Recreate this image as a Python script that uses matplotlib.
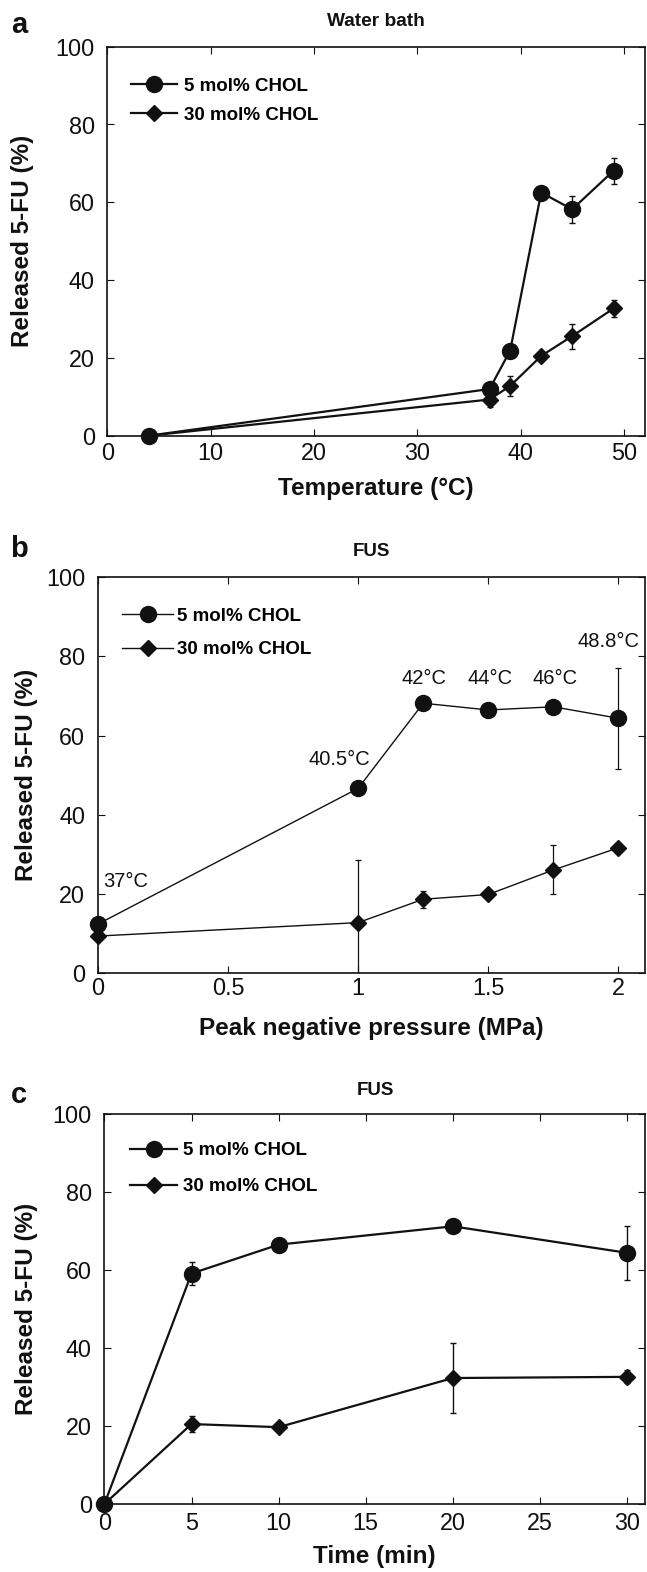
import matplotlib
matplotlib.use('Agg')
import matplotlib.pyplot as plt

plt.rcParams['font.family'] = ['Liberation Sans', 'DejaVu Sans']

# ---------------- data ----------------
series_labels = ['5 mol% CHOL', '30 mol% CHOL']

# (a) water bath
temp_c = [4, 37, 39, 42, 45, 49]
wb_5 = [0, 12.0, 21.9, 62.5, 58.2, 68.1]
wb_5_err = [0, 1.0, 0.5, 0.5, 3.4, 3.4]
wb_30 = [0, 9.3, 12.8, 20.5, 25.6, 32.7]
wb_30_err = [0, 1.9, 2.6, 0.5, 3.2, 2.2]

# (b) FUS vs pressure
pressure = [0, 1, 1.25, 1.5, 1.75, 2]
fus_p_5 = [12.4, 46.7, 68.2, 66.5, 67.3, 64.4]
fus_p_5_err = [0.5, 0.5, 0.5, 0.5, 0.5, 12.8]
fus_p_30 = [9.4, 12.8, 18.7, 19.9, 26.1, 31.7]
fus_p_30_err = [0.5, 15.8, 2.1, 0.5, 6.2, 0.5]
temp_labels = ['37°C', '40.5°C', '42°C', '44°C', '46°C', '48.8°C']
pressure_ticks = [0, 0.5, 1, 1.5, 2]
pressure_ticklabels = ['0', '0.5', '1', '1.5', '2']

# (c) FUS vs time
time_min = [0, 5, 10, 20, 30]
fus_t_5 = [0, 59.1, 66.5, 71.2, 64.4]
fus_t_5_err = [0, 2.9, 0.5, 0.5, 7.0]
fus_t_30 = [0, 20.5, 19.7, 32.3, 32.6]
fus_t_30_err = [0, 2.0, 0.5, 8.9, 1.7]

# ---------------- figure ----------------
W, H = 647, 1572
fig = plt.figure(figsize=(W / 100, H / 100), dpi=100)
K = '#111111'


def add_ax(l, r, t, b):
    return fig.add_axes([l / W, 1 - b / H, (r - l) / W, (b - t) / H])


def draw_series(ax, x, y, err, marker, ms, lw, elw, label):
    ax.errorbar(x, y, yerr=err, fmt='none', ecolor=K, elinewidth=elw,
                capsize=2.2, capthick=elw, zorder=2)
    h, = ax.plot(x, y, marker=marker, color=K, lw=lw, ms=ms, mec=K, mfc=K,
                 clip_on=False, zorder=3, label=label)
    return h


def style_ax(ax, xpad):
    ax.set_ylim(0, 100)
    ax.set_yticks(range(0, 101, 20))
    ax.tick_params(direction='in', top=True, right=True, length=5, width=0.8,
                   labelsize=16.8, colors=K)
    ax.tick_params(axis='y', pad=9)
    ax.tick_params(axis='x', pad=xpad)
    for s in ax.spines.values():
        s.set_linewidth(1.2)
        s.set_color(K)
    ax.set_ylabel('Released 5-FU (%)', fontsize=17.5, fontweight='bold', color=K)
    ax.yaxis.label.set_va('center')


def legend(ax, fx, fy, hl, htp, ls):
    ax.legend(loc='upper left', bbox_to_anchor=(fx, fy), frameon=False,
              borderpad=0, borderaxespad=0, handlelength=hl,
              handletextpad=htp, labelspacing=ls, numpoints=1,
              prop={'weight': 'bold', 'size': 13.5})


# ---- panel a ----
axa = add_ax(107.3, 644.5, 46.7, 435.7)
draw_series(axa, temp_c, wb_5, wb_5_err, 'o', 11.5, 1.6, 1.0, series_labels[0])
draw_series(axa, temp_c, wb_30, wb_30_err, 'D', 7.8, 1.6, 1.0, series_labels[1])
style_ax(axa, 4.5)
axa.set_xlim(0, 52)
axa.set_xticks(range(0, 51, 10))
axa.set_xlabel('Temperature (°C)', fontsize=17.5, fontweight='bold', color=K)
axa.xaxis.label.set_va('center')
axa.xaxis.set_label_coords(0.5, -(489 - 435.7) / (435.7 - 46.7))
axa.yaxis.set_label_coords(-(107.3 - 22.5) / (644.5 - 107.3), 0.5)
legend(axa, 0.045, 0.920, 2.45, 0.37, 0.61)

# ---- panel b ----
axb = add_ax(97.8, 644.5, 577.3, 973.3)
draw_series(axb, pressure, fus_p_5, fus_p_5_err, 'o', 11.5, 1.0, 0.9, series_labels[0])
draw_series(axb, pressure, fus_p_30, fus_p_30_err, 'D', 7.8, 1.0, 0.9, series_labels[1])
style_ax(axb, 2.5)
axb.set_xlim(0, 2.1)
axb.set_xticks(pressure_ticks)
axb.set_xticklabels(pressure_ticklabels)
axb.set_xlabel('Peak negative pressure (MPa)', fontsize=17.5, fontweight='bold', color=K)
axb.xaxis.label.set_va('center')
axb.xaxis.set_label_coords(0.5, -(1028 - 973.3) / (973.3 - 577.3))
axb.yaxis.set_label_coords(-(97.8 - 26.9) / (644.5 - 97.8), 0.5)
legend(axb, 0.045, 0.924, 2.7, 0.2, 0.89)
ann_pos = [(0.021, 23.1, 'left'), (0.929, 53.9, 'center'), (1.2525, 74.5, 'center'),
           (1.507, 74.5, 'center'), (1.756, 74.5, 'center'), (1.961, 83.7, 'center')]
for lab, (ax_, ay_, ha_) in zip(temp_labels, ann_pos):
    axb.text(ax_, ay_, lab, ha=ha_, va='center', fontsize=14.5, color=K)

# ---- panel c ----
axc = add_ax(104.4, 644.5, 1114.0, 1504.0)
draw_series(axc, time_min, fus_t_5, fus_t_5_err, 'o', 11.5, 1.6, 1.0, series_labels[0])
draw_series(axc, time_min, fus_t_30, fus_t_30_err, 'D', 7.8, 1.6, 1.0, series_labels[1])
style_ax(axc, 5.5)
axc.set_xlim(0, 31)
axc.set_xticks(range(0, 31, 5))
axc.set_xlabel('Time (min)', fontsize=17.5, fontweight='bold', color=K)
axc.xaxis.label.set_va('center')
axc.xaxis.set_label_coords(0.5, -(1557 - 1504) / (1504 - 1114))
axc.yaxis.set_label_coords(-(104.4 - 26.9) / (644.5 - 104.4), 0.5)
legend(axc, 0.047, 0.928, 2.53, 0.29, 1.0)

# titles and panel letters
fig.text(376 / W, 1 - 21 / H, 'Water bath', ha='center', va='center',
         fontsize=13.8, fontweight='bold', color=K)
fig.text(371 / W, 1 - 551.7 / H, 'FUS', ha='center', va='center',
         fontsize=13.5, fontweight='bold', color=K)
fig.text(375.5 / W, 1 - 1090.2 / H, 'FUS', ha='center', va='center',
         fontsize=13.5, fontweight='bold', color=K)
fig.text(11 / W, 1 - 33 / H, 'a', ha='left', va='baseline', fontsize=21,
         fontweight='bold', color=K)
fig.text(10 / W, 1 - 556.7 / H, 'b', ha='left', va='baseline', fontsize=21,
         fontweight='bold', color=K)
fig.text(11 / W, 1 - 1103 / H, 'c', ha='left', va='baseline', fontsize=21,
         fontweight='bold', color=K)

fig.savefig('out.png', dpi=100, facecolor='white')
